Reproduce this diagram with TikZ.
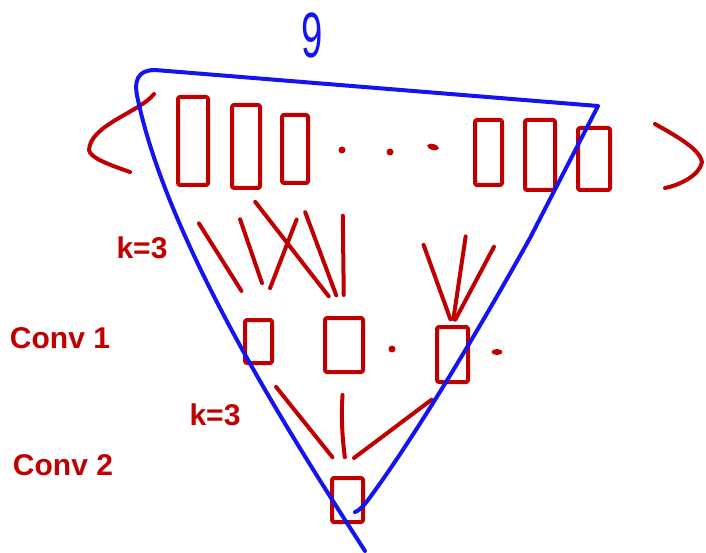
\documentclass[tikz,border=0pt]{standalone}
\usepackage{fontspec}
\setmainfont{Liberation Sans}
\usetikzlibrary{shapes.geometric}
\definecolor{inkred}{RGB}{192,0,0}
\definecolor{inkblue}{RGB}{20,20,240}
\tikzset{
    lab/.style={
        font=\fontsize{30}{36}\selectfont\bfseries, text=inkred
    }
}

\begin{document}
\begin{tikzpicture}[
  x=1pt,
  y=-1pt,
  line cap=round,
  line join=round,
  ink/.style={draw=inkred, line width=4pt},
  link/.style={draw=inkred, line width=4pt},
  field/.style={draw=inkblue, line width=4pt}
]
\useasboundingbox (0,0) rectangle (706,553);

% ---------- node styles ----------
\tikzset{
  cell/.style={draw=inkred, line width=4pt, rounded corners=2pt, inner sep=0pt},
  dotmark/.style={circle, fill=inkred, inner sep=0pt, minimum size=7pt},
  fieldlab/.style={font=\fontsize{64}{64}\selectfont, text=inkblue}
}

% ---------- input row ----------
\node[cell, minimum width=30pt, minimum height=88pt] (in1) at (193,141) {};
\node[cell, minimum width=28pt, minimum height=83pt] (in2) at (246,146.5) {};
\node[cell, minimum width=26pt, minimum height=68pt] (in3) at (295,149) {};
\node[dotmark] (dot1) at (342,150) {};
\node[dotmark] (dot2) at (390,152) {};
\node[dotmark, ellipse, minimum width=12pt, minimum height=6pt, rotate=-15] (dot3) at (433,147) {};
\node[cell, minimum width=27pt, minimum height=65pt] (in4) at (488.5,152.5) {};
\node[cell, minimum width=30pt, minimum height=70pt] (in5) at (540,155) {};
\node[cell, minimum width=32pt, minimum height=62pt] (in6) at (594,159) {};

% brackets round the input
\draw[ink] (154,94) .. controls (140,112) and (90,125) .. (89,150)
  .. controls (90,158) and (110,165) .. (130,172);
\draw[ink] (655,124) .. controls (680,138) and (700,150) .. (702,162)
  .. controls (700,175) and (680,185) .. (665,188);

% ---------- conv 1 ----------
\node[cell, minimum width=27pt, minimum height=43pt] (c1a) at (258.5,341.5) {};
\node[cell, minimum width=38pt, minimum height=54pt] (c1b) at (344,345) {};
\node[dotmark] (dot4) at (392,349) {};
\node[cell, minimum width=31pt, minimum height=55pt] (c1c) at (452.5,354.5) {};
\node[dotmark, ellipse, minimum width=11pt, minimum height=6pt] (dot5) at (497,352) {};

% ---------- conv 2 ----------
\node[cell, minimum width=31pt, minimum height=44pt] (c2) at (347.5,500) {};

% ---------- kernels ----------
\draw[link, shorten <=43pt, shorten >=32pt] (in1.south west) -- (c1a.north);
\draw[link, shorten <=31pt, shorten >=37pt] (in2.south west) -- (c1a.north east);
\draw[link, shorten <=37pt, shorten >=32pt] (in3.south east) -- (c1a.north);
\draw[link, shorten <=15pt, shorten >=25pt] (in2.south) -- (c1b.north);
\draw[link, shorten <=29pt, shorten >=22pt] (in3.south) -- (c1b.north);
\draw[link, shorten <=62pt, shorten >=21pt] (dot1) -- (c1b.north);
\draw[link, shorten <=95pt, shorten >=6pt] (dot2) -- (c1c.north);
\draw[link, shorten <=50pt, shorten >=6pt] (in4.south west) -- (c1c.north);
\draw[link, shorten <=62pt, shorten >=6pt] (in5.south west) -- (c1c.north);

\draw[link, shorten <=28pt, shorten >=24pt] (c1a.south) -- (c2.north);
\draw[link, shorten <=21pt, shorten >=19pt] (c1b.south) to[bend right=6] (c2.north);
\draw[link, shorten <=26pt, shorten >=30pt] (c1c.south) -- (c2.north west);

% ---------- labels ----------
\node[lab] (k1) at (142,248) {k=3};
\node[lab] (conv1) at (60,338) {Conv 1};
\node[lab] (k2) at (215,415) {k=3};
\node[lab] (conv2) at (63,465) {Conv 2};

% ---------- receptive field (blue) ----------
\draw[field] (365,551) .. controls (300,450) and (170,250) .. (138,100)
  .. controls (133,80) and (138,70) .. (155,70) -- (598,106) -- (530,238)
  .. controls (490,310) and (420,430) .. (368,500)
  .. controls (362,508) and (358,511) .. (355,512);
\node[fieldlab, xscale=0.6, transform shape] (g) at (312,35) {9};

\end{tikzpicture}
\end{document}
